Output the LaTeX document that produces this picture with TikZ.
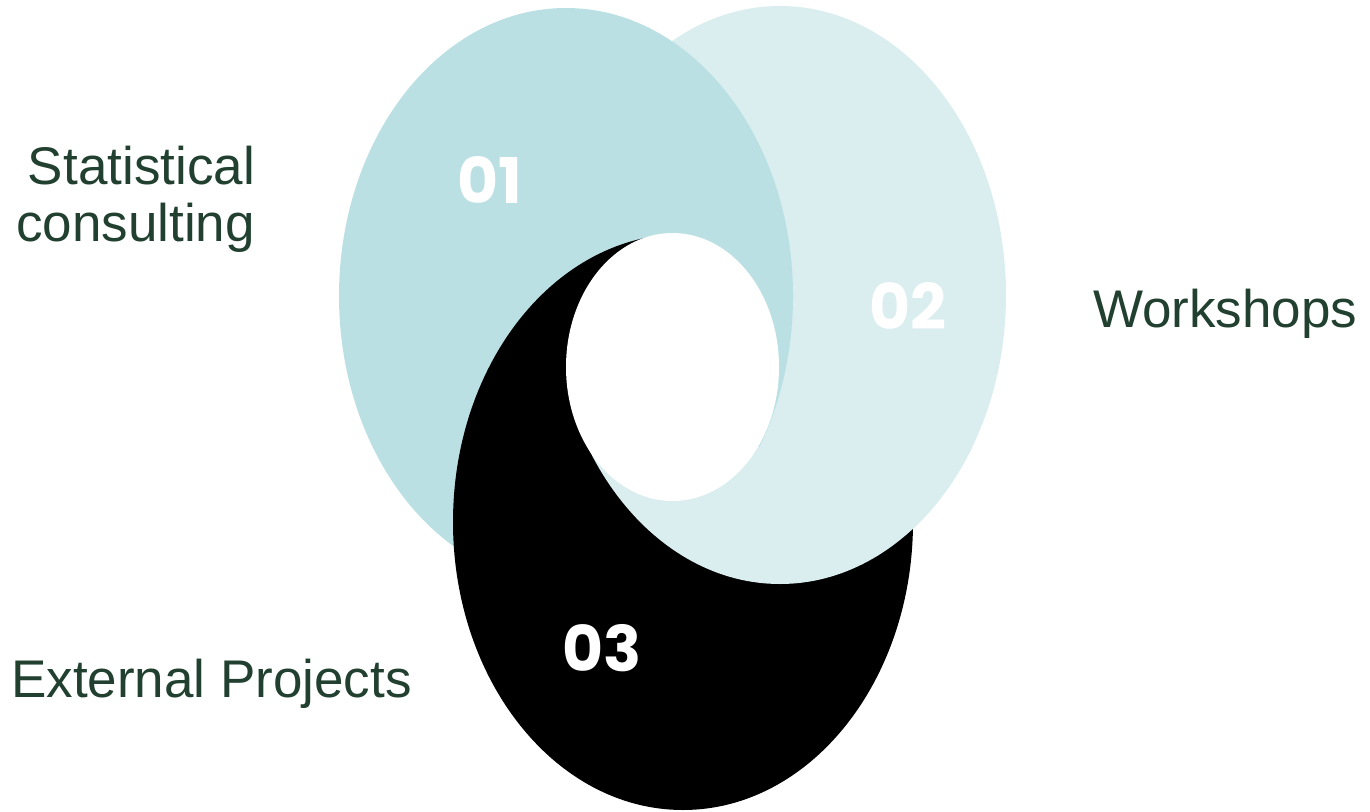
\documentclass[tikz,border=0pt]{standalone}
\usepackage{fontspec}
\setmainfont{Liberation Sans}
\newfontfamily\numfont{Poppins}
\usepackage{tikz}
\definecolor{ringA}{HTML}{BBE0E3}
\definecolor{ringB}{HTML}{DAEDEF}
\definecolor{labelgreen}{HTML}{21402F}
\tikzset{
  numlabel/.style={text=white, inner sep=0pt, font=\numfont\bfseries\fontsize{63}{63}\selectfont},
  sidelabel/.style={text=labelgreen, inner sep=0pt, font=\fontsize{53}{57}\selectfont}
}

\begin{document}
\begin{tikzpicture}[x=1pt,y=-1pt]

  \useasboundingbox (0,0) rectangle (1370,811);

  \newcommand\SEAMX{672}
  \newcommand\SEAMY{447}

  \coordinate (ca) at (566,296);
  \coordinate (cb) at (780,295);
  \coordinate (cc) at (683,522);
  \coordinate (hole) at (672.5,367);

  % back rings
  \fill[ringB] (cb) ellipse [x radius=226, y radius=289];
  \fill[ringA] (ca) ellipse [x radius=227, y radius=288];

  % black ring only over the left part
  \begin{scope}
    \clip (0,0) -- (\SEAMX,0) -- (\SEAMX,\SEAMY) -- (1370,\SEAMY) -- (1370,811) -- (0,811) -- cycle;
    \fill[black] (cc) ellipse [x radius=230, y radius=288];
  \end{scope}

  % ring 02 comes back on top below the seam
  \begin{scope}
    \clip (0,\SEAMY) rectangle (1370,811);
    \fill[ringB] (cb) ellipse [x radius=226, y radius=289];
  \end{scope}

  \fill[white] (hole) ellipse [x radius=106.5, y radius=134];

  \node[numlabel] (n1) at (490,180) {01};
  \node[numlabel] (n2) at (908,306) {02};
  \node[numlabel] (n3) at (602,648) {03};

  \node[sidelabel, align=right, anchor=base east] (stat) at (255,241) {Statistical\\consulting};
  \node[sidelabel, anchor=base west] (work) at (1093,327) {Workshops};
  \node[sidelabel, anchor=base west] (ext) at (11,697) {External Projects};

\end{tikzpicture}
\end{document}
